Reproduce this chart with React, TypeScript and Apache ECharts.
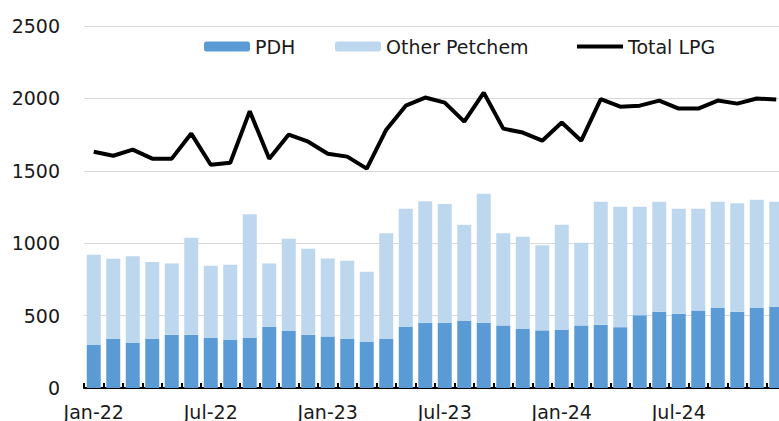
import React, { useEffect, useRef } from "react";
import * as echarts from "echarts";

const months = [
  "Jan-22", "Feb-22", "Mar-22", "Apr-22", "May-22", "Jun-22", "Jul-22", "Aug-22", "Sep-22", "Oct-22", "Nov-22", "Dec-22",
  "Jan-23", "Feb-23", "Mar-23", "Apr-23", "May-23", "Jun-23", "Jul-23", "Aug-23", "Sep-23", "Oct-23", "Nov-23", "Dec-23",
  "Jan-24", "Feb-24", "Mar-24", "Apr-24", "May-24", "Jun-24", "Jul-24", "Aug-24", "Sep-24", "Oct-24", "Nov-24", "Dec-24",
];

const pdh = [
  297, 339, 311, 339, 367, 367, 346, 332, 346, 422, 394, 367,
  356, 339, 318, 339, 422, 450, 450, 463, 450, 432, 408, 398,
  401, 432, 436, 420, 502, 526, 512, 536, 553, 526, 553, 560,
];

const otherPetchem = [
  623, 553, 599, 532, 493, 670, 498, 519, 854, 438, 636, 594,
  539, 539, 484, 729, 816, 840, 820, 664, 892, 636, 636, 587,
  726, 571, 850, 832, 750, 760, 726, 702, 733, 750, 747, 726,
];

const totalLpg = [
  1632, 1604, 1646, 1584, 1584, 1757, 1542, 1556, 1912, 1584, 1750, 1701,
  1618, 1598, 1515, 1784, 1950, 2006, 1971, 1840, 2040, 1791, 1764, 1708,
  1833, 1708, 1995, 1943, 1950, 1985, 1930, 1930, 1985, 1964, 1999, 1992,
];

const yTicks = [0, 500, 1000, 1500, 2000, 2500];

const FONT = "DejaVu Sans";
const TEXT = "#1a1a1a";

export default function App() {
  const ref = useRef<HTMLDivElement>(null);
  useEffect(() => {
    const chart = echarts.init(ref.current!, null, { renderer: "svg" });
    const legendText = { fontFamily: FONT, fontSize: 19, color: TEXT };
    chart.setOption({
      animation: false,
      backgroundColor: "#fff",
      grid: { left: 84, width: 702, top: 26, bottom: 33 },
      legend: [
        { data: ["PDH"], left: 199, top: 32, itemWidth: 46, itemHeight: 10, itemGap: 0, textStyle: legendText },
        { data: ["Other Petchem"], left: 330, top: 32, itemWidth: 46, itemHeight: 10, itemGap: 0, textStyle: legendText },
        {
          data: [{ name: "Total LPG", icon: "rect", itemStyle: { color: "#000" } }],
          left: 572,
          top: 32,
          itemWidth: 46,
          itemHeight: 4,
          itemGap: 0,
          textStyle: legendText,
        },
      ],
      xAxis: {
        type: "category",
        data: months,
        boundaryGap: true,
        axisLine: { show: true, lineStyle: { color: "#000", width: 2 } },
        axisTick: { show: true, interval: 0, inside: true, length: 5, lineStyle: { color: "#000", width: 2 } },
        axisLabel: { interval: 5, margin: 14, fontFamily: FONT, fontSize: 19, color: TEXT },
        splitLine: { show: false },
      },
      yAxis: {
        type: "value",
        min: yTicks[0],
        max: yTicks[yTicks.length - 1],
        interval: 500,
        axisLine: { show: false },
        axisTick: { show: false },
        axisLabel: {
          margin: 24,
          fontFamily: FONT,
          fontSize: 19,
          color: TEXT,
          formatter: (v: number) => String(v),
        },
        splitLine: { show: true, lineStyle: { color: "#d9d9d9", width: 1 } },
      },
      series: [
        {
          name: "PDH",
          type: "bar",
          stack: "petchem",
          data: pdh,
          barWidth: 14,
          itemStyle: { color: "#5b9bd5" },
        },
        {
          name: "Other Petchem",
          type: "bar",
          stack: "petchem",
          data: otherPetchem,
          barWidth: 14,
          itemStyle: { color: "#bdd7ee" },
        },
        {
          name: "Total LPG",
          type: "line",
          data: totalLpg,
          symbol: "none",
          lineStyle: { color: "#000", width: 4 },
          itemStyle: { color: "#000" },
          z: 5,
        },
      ],
    });
    return () => chart.dispose();
  }, []);
  return (
    <div style={{ position: "fixed", left: 0, top: 0, width: 779, height: 421, background: "#fff", overflow: "hidden" }}>
      <div ref={ref} style={{ position: "absolute", left: 0, top: 0, width: 800, height: 421 }} />
    </div>
  );
}
